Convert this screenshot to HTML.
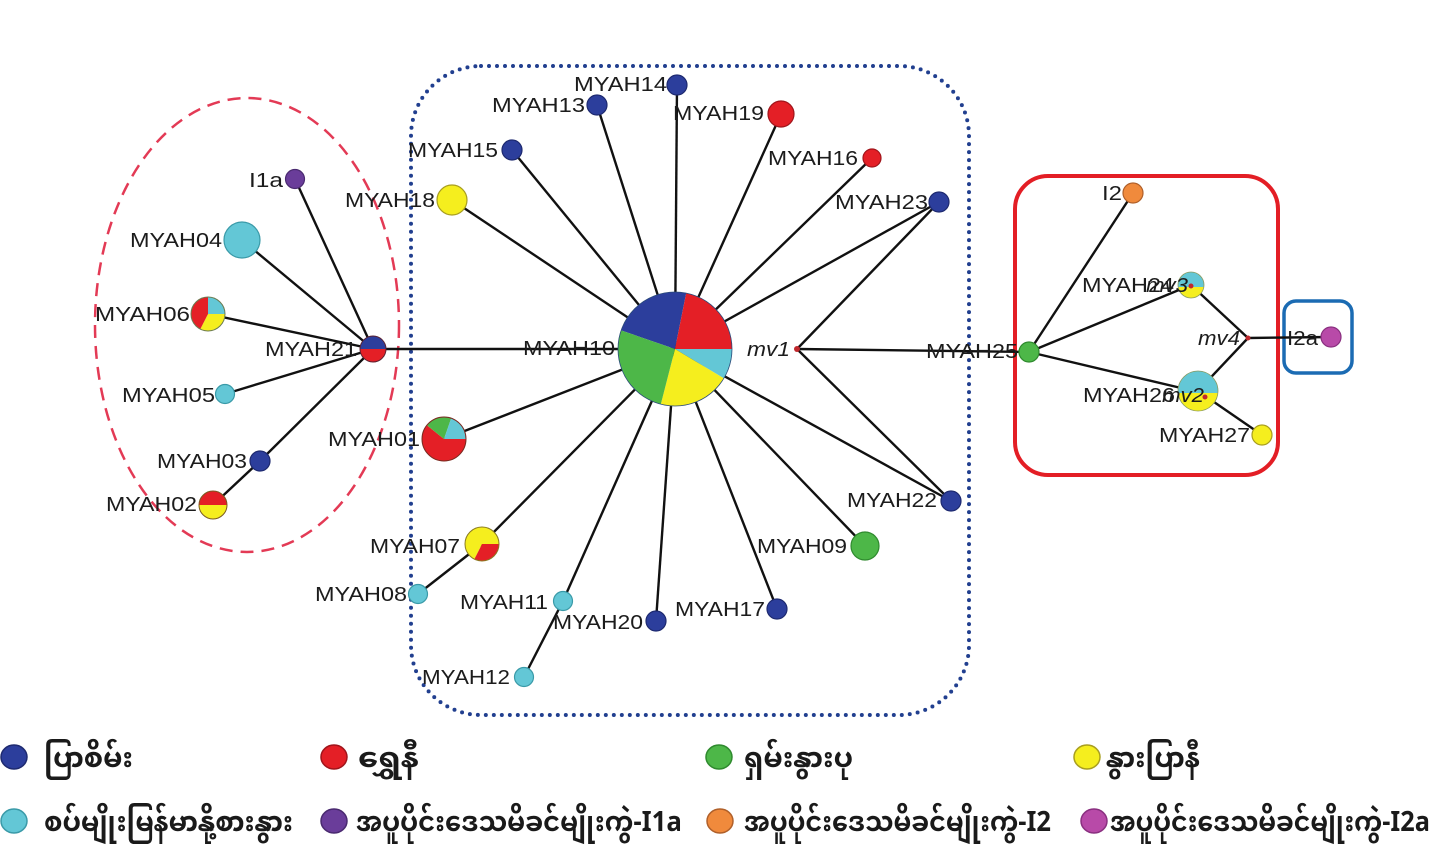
<!DOCTYPE html>
<html>
<head>
<meta charset="utf-8">
<style>
  html, body { margin: 0; padding: 0; background: #ffffff; }
  svg { display: block; }
  .lbl { font-family: "Liberation Sans", Arial, sans-serif; font-size: 20px; fill: #1c1c1c; }
  .it { font-style: italic; }
  .leg { font-family: "Noto Sans Myanmar", "Padauk", "Myanmar Text", "Liberation Sans", sans-serif; font-size: 28px; font-weight: bold; fill: #1a1a1a; }
  .e { stroke: #111; stroke-width: 2.4; fill: none; }
</style>
</head>
<body>
<svg width="1455" height="861" viewBox="0 0 1455 861" xmlns="http://www.w3.org/2000/svg">
  <rect x="0" y="0" width="1455" height="861" fill="#ffffff"/>

  <!-- grouping shapes -->
  <ellipse cx="247" cy="325" rx="152" ry="227" fill="none" stroke="#e33a55" stroke-width="2.5" stroke-dasharray="13 8"/>
  <rect x="411" y="66" width="558" height="649" rx="70" ry="70" fill="none" stroke="#213f8f" stroke-width="4" stroke-dasharray="0 8" stroke-linecap="round"/>
  <rect x="1015" y="176" width="263" height="299" rx="33" ry="33" fill="none" stroke="#e31e25" stroke-width="4"/>
  <rect x="1284" y="301" width="68" height="72" rx="12" ry="12" fill="none" stroke="#1b6bb3" stroke-width="3.5"/>

  <!-- edges -->
  <g class="e">
    <line x1="675" y1="349" x2="677" y2="85"/>
    <line x1="675" y1="349" x2="597" y2="105"/>
    <line x1="675" y1="349" x2="781" y2="114"/>
    <line x1="675" y1="349" x2="512" y2="150"/>
    <line x1="675" y1="349" x2="872" y2="158"/>
    <line x1="675" y1="349" x2="452" y2="200"/>
    <line x1="675" y1="349" x2="939" y2="202"/>
    <line x1="675" y1="349" x2="951" y2="501"/>
    <line x1="675" y1="349" x2="865" y2="546"/>
    <line x1="675" y1="349" x2="777" y2="609"/>
    <line x1="675" y1="349" x2="656" y2="621"/>
    <line x1="675" y1="349" x2="563" y2="601"/>
    <line x1="675" y1="349" x2="482" y2="544"/>
    <line x1="675" y1="349" x2="444" y2="439"/>
    <line x1="675" y1="349" x2="373" y2="349"/>
    <line x1="939" y1="202" x2="797" y2="349"/>
    <line x1="951" y1="501" x2="797" y2="349"/>
    <line x1="797" y1="349" x2="1029" y2="352"/>
    <line x1="563" y1="601" x2="524" y2="677"/>
    <line x1="482" y1="544" x2="418" y2="594"/>
    <line x1="373" y1="349" x2="295" y2="179"/>
    <line x1="373" y1="349" x2="242" y2="240"/>
    <line x1="373" y1="349" x2="208" y2="314"/>
    <line x1="373" y1="349" x2="225" y2="394"/>
    <line x1="373" y1="349" x2="260" y2="461"/>
    <line x1="260" y1="461" x2="213" y2="505"/>
    <line x1="1029" y1="352" x2="1133" y2="193"/>
    <line x1="1029" y1="352" x2="1191" y2="285"/>
    <line x1="1029" y1="352" x2="1198" y2="392"/>
    <line x1="1191" y1="285" x2="1248" y2="338"/>
    <line x1="1198" y1="391" x2="1248" y2="338"/>
    <line x1="1248" y1="338" x2="1331" y2="337"/>
    <line x1="1198" y1="391" x2="1262" y2="435"/>
  </g>

  <!-- central pie MYAH10 -->
  <g>
    <path d="M675,349 L621.1,330.4 A57,57 0 0 1 686.2,293.1 Z" fill="#2c3e9c"/>
    <path d="M675,349 L686.2,293.1 A57,57 0 0 1 732,349 Z" fill="#e41f26"/>
    <path d="M675,349 L732,349 A57,57 0 0 1 723.9,378.4 Z" fill="#63c7d6"/>
    <path d="M675,349 L723.9,378.4 A57,57 0 0 1 660.8,404.2 Z" fill="#f5ee1e"/>
    <path d="M675,349 L660.8,404.2 A57,57 0 0 1 621.1,330.4 Z" fill="#4db748"/>
    <circle cx="675" cy="349" r="57" fill="none" stroke="#2a4a7a" stroke-width="0.8"/>
  </g>

  <!-- MYAH01 pie -->
  <path d="M444,439 L466,439 A22,22 0 1 1 426.9,425.2 Z" fill="#e41f26"/>
  <path d="M444,439 L426.9,425.2 A22,22 0 0 1 451.2,418.2 Z" fill="#4db748"/>
  <path d="M444,439 L451.2,418.2 A22,22 0 0 1 466,439 Z" fill="#63c7d6"/>
  <circle cx="444" cy="439" r="22" fill="none" stroke="#7a2a20" stroke-width="1"/>

  <!-- MYAH07 pie -->
  <path d="M482,544 L499,544 A17,17 0 0 1 474.3,559.1 Z" fill="#e41f26"/>
  <path d="M482,544 L474.3,559.1 A17,17 0 1 1 499,544 Z" fill="#f5ee1e"/>
  <circle cx="482" cy="544" r="17" fill="none" stroke="#8a7a20" stroke-width="1"/>

  <!-- MYAH06 pie -->
  <path d="M208,314 L208,297 A17,17 0 0 1 225,314 Z" fill="#63c7d6"/>
  <path d="M208,314 L225,314 A17,17 0 0 1 200.3,329.1 Z" fill="#f5ee1e"/>
  <path d="M208,314 L200.3,329.1 A17,17 0 0 1 208,297 Z" fill="#e41f26"/>
  <circle cx="208" cy="314" r="17" fill="none" stroke="#6a7a50" stroke-width="1"/>

  <!-- MYAH21 half -->
  <path d="M360,349 A13,13 0 0 1 386,349 Z" fill="#2c3e9c"/>
  <path d="M386,349 A13,13 0 0 1 360,349 Z" fill="#e41f26"/>
  <circle cx="373" cy="349" r="13" fill="none" stroke="#5a2030" stroke-width="1"/>

  <!-- MYAH02 half -->
  <path d="M199,505 A14,14 0 0 1 227,505 Z" fill="#e41f26"/>
  <path d="M227,505 A14,14 0 0 1 199,505 Z" fill="#f5ee1e"/>
  <circle cx="213" cy="505" r="14" fill="none" stroke="#7a5a20" stroke-width="1"/>

  <!-- MYAH24 / mv3 -->
  <circle cx="1191" cy="285" r="13" fill="#f5ee1e"/>
  <path d="M1178.15,287 A13,13 0 1 1 1203.85,287 Z" fill="#63c7d6"/>
  <circle cx="1191" cy="285" r="13" fill="none" stroke="#8a9a60" stroke-width="0.8"/>

  <!-- MYAH26 / mv2 -->
  <circle cx="1198" cy="391" r="20" fill="#f5ee1e"/>
  <path d="M1178.1,393 A20,20 0 1 1 1217.9,393 Z" fill="#63c7d6"/>
  <circle cx="1198" cy="391" r="20" fill="none" stroke="#8a9a60" stroke-width="0.8"/>

  <!-- simple nodes -->
  <g stroke-width="1.2">
    <circle cx="677" cy="85" r="10" fill="#2c3e9c" stroke="#1e2a70"/>
    <circle cx="597" cy="105" r="10" fill="#2c3e9c" stroke="#1e2a70"/>
    <circle cx="781" cy="114" r="13" fill="#e41f26" stroke="#a0151b"/>
    <circle cx="512" cy="150" r="10" fill="#2c3e9c" stroke="#1e2a70"/>
    <circle cx="872" cy="158" r="9" fill="#e41f26" stroke="#a0151b"/>
    <circle cx="452" cy="200" r="15" fill="#f5ee1e" stroke="#a89e20"/>
    <circle cx="939" cy="202" r="10" fill="#2c3e9c" stroke="#1e2a70"/>
    <circle cx="951" cy="501" r="10" fill="#2c3e9c" stroke="#1e2a70"/>
    <circle cx="865" cy="546" r="14" fill="#4db748" stroke="#2f8a2e"/>
    <circle cx="777" cy="609" r="10" fill="#2c3e9c" stroke="#1e2a70"/>
    <circle cx="656" cy="621" r="10" fill="#2c3e9c" stroke="#1e2a70"/>
    <circle cx="563" cy="601" r="9.5" fill="#63c7d6" stroke="#3a9aa8"/>
    <circle cx="524" cy="677" r="9.5" fill="#63c7d6" stroke="#3a9aa8"/>
    <circle cx="418" cy="594" r="9.5" fill="#63c7d6" stroke="#3a9aa8"/>
    <circle cx="295" cy="179" r="9.5" fill="#6a3d9a" stroke="#4a2a70"/>
    <circle cx="242" cy="240" r="18" fill="#63c7d6" stroke="#3a9aa8"/>
    <circle cx="225" cy="394" r="9.5" fill="#63c7d6" stroke="#3a9aa8"/>
    <circle cx="260" cy="461" r="10" fill="#2c3e9c" stroke="#1e2a70"/>
    <circle cx="1029" cy="352" r="10" fill="#4db748" stroke="#2f8a2e"/>
    <circle cx="1133" cy="193" r="10" fill="#f08a3c" stroke="#b0602a"/>
    <circle cx="1331" cy="337" r="10" fill="#b84aa8" stroke="#8a3080"/>
    <circle cx="1262" cy="435" r="10" fill="#f5ee1e" stroke="#a89e20"/>
  </g>

  <!-- median vectors -->
  <g fill="#c0282d">
    <circle cx="797" cy="349" r="3"/>
    <circle cx="1191" cy="286" r="2.5"/>
    <circle cx="1205" cy="397" r="2.5"/>
    <circle cx="1248" cy="338" r="2.5"/>
  </g>

  <!-- labels -->
  <g class="lbl">
    <text x="249" y="187" textLength="34" lengthAdjust="spacingAndGlyphs">I1a</text>
    <text x="130" y="247" textLength="92" lengthAdjust="spacingAndGlyphs">MYAH04</text>
    <text x="95" y="321" textLength="95" lengthAdjust="spacingAndGlyphs">MYAH06</text>
    <text x="265" y="356" textLength="92" lengthAdjust="spacingAndGlyphs">MYAH21</text>
    <text x="122" y="402" textLength="93" lengthAdjust="spacingAndGlyphs">MYAH05</text>
    <text x="157" y="468" textLength="90" lengthAdjust="spacingAndGlyphs">MYAH03</text>
    <text x="106" y="511" textLength="91" lengthAdjust="spacingAndGlyphs">MYAH02</text>
    <text x="345" y="207" textLength="90" lengthAdjust="spacingAndGlyphs">MYAH18</text>
    <text x="408" y="157" textLength="90" lengthAdjust="spacingAndGlyphs">MYAH15</text>
    <text x="492" y="112" textLength="93" lengthAdjust="spacingAndGlyphs">MYAH13</text>
    <text x="574" y="91" textLength="93" lengthAdjust="spacingAndGlyphs">MYAH14</text>
    <text x="673" y="120" textLength="91" lengthAdjust="spacingAndGlyphs">MYAH19</text>
    <text x="768" y="165" textLength="90" lengthAdjust="spacingAndGlyphs">MYAH16</text>
    <text x="835" y="209" textLength="93" lengthAdjust="spacingAndGlyphs">MYAH23</text>
    <text x="523" y="355" textLength="92" lengthAdjust="spacingAndGlyphs">MYAH10</text>
    <text class="it" x="747" y="356" textLength="43" lengthAdjust="spacingAndGlyphs">mv1</text>
    <text x="926" y="358" textLength="92" lengthAdjust="spacingAndGlyphs">MYAH25</text>
    <text x="847" y="507" textLength="90" lengthAdjust="spacingAndGlyphs">MYAH22</text>
    <text x="757" y="553" textLength="90" lengthAdjust="spacingAndGlyphs">MYAH09</text>
    <text x="675" y="616" textLength="90" lengthAdjust="spacingAndGlyphs">MYAH17</text>
    <text x="553" y="629" textLength="90" lengthAdjust="spacingAndGlyphs">MYAH20</text>
    <text x="460" y="609" textLength="88" lengthAdjust="spacingAndGlyphs">MYAH11</text>
    <text x="422" y="684" textLength="88" lengthAdjust="spacingAndGlyphs">MYAH12</text>
    <text x="315" y="601" textLength="92" lengthAdjust="spacingAndGlyphs">MYAH08</text>
    <text x="370" y="553" textLength="90" lengthAdjust="spacingAndGlyphs">MYAH07</text>
    <text x="328" y="446" textLength="92" lengthAdjust="spacingAndGlyphs">MYAH01</text>
    <text x="1102" y="200" textLength="20" lengthAdjust="spacingAndGlyphs">I2</text>
    <text x="1082" y="292" textLength="92" lengthAdjust="spacingAndGlyphs">MYAH24</text>
    <text class="it" x="1146" y="292" textLength="42" lengthAdjust="spacingAndGlyphs">mv3</text>
    <text class="it" x="1198" y="345" textLength="42" lengthAdjust="spacingAndGlyphs">mv4</text>
    <text x="1287" y="345" textLength="31" lengthAdjust="spacingAndGlyphs">I2a</text>
    <text x="1083" y="402" textLength="92" lengthAdjust="spacingAndGlyphs">MYAH26</text>
    <text class="it" x="1162" y="402" textLength="42" lengthAdjust="spacingAndGlyphs">mv2</text>
    <text x="1159" y="442" textLength="91" lengthAdjust="spacingAndGlyphs">MYAH27</text>
  </g>

  <!-- legend -->
  <g stroke-width="1.5">
    <ellipse cx="14" cy="757" rx="13" ry="12" fill="#2c3e9c" stroke="#1e2a70"/>
    <ellipse cx="334" cy="757" rx="13" ry="12" fill="#e41f26" stroke="#a0151b"/>
    <ellipse cx="719" cy="757" rx="13" ry="12" fill="#4db748" stroke="#2f8a2e"/>
    <ellipse cx="1087" cy="757" rx="13" ry="12" fill="#f5ee1e" stroke="#a89e20"/>
    <ellipse cx="14" cy="821" rx="13" ry="12" fill="#63c7d6" stroke="#3a9aa8"/>
    <ellipse cx="334" cy="821" rx="13" ry="12" fill="#6a3d9a" stroke="#4a2a70"/>
    <ellipse cx="720" cy="821" rx="13" ry="12" fill="#f08a3c" stroke="#b0602a"/>
    <ellipse cx="1094" cy="821" rx="13" ry="12" fill="#b84aa8" stroke="#8a3080"/>
  </g>
  <g class="leg">
    <text x="44" y="767" textLength="89" lengthAdjust="spacingAndGlyphs">ပြာစိမ်း</text>
    <text x="358" y="767" textLength="61" lengthAdjust="spacingAndGlyphs">ရွှေနီ</text>
    <text x="744" y="767" textLength="109" lengthAdjust="spacingAndGlyphs">ရှမ်းနွားပု</text>
    <text x="1106" y="767" textLength="94" lengthAdjust="spacingAndGlyphs">နွားပြာနီ</text>
    <text x="44" y="831" textLength="249" lengthAdjust="spacingAndGlyphs">စပ်မျိုးမြန်မာနို့စားနွား</text>
    <text x="356" y="831" textLength="326" lengthAdjust="spacingAndGlyphs">အပူပိုင်းဒေသမိခင်မျိုးကွဲ-I1a</text>
    <text x="744" y="831" textLength="307" lengthAdjust="spacingAndGlyphs">အပူပိုင်းဒေသမိခင်မျိုးကွဲ-I2</text>
    <text x="1110" y="831" textLength="320" lengthAdjust="spacingAndGlyphs">အပူပိုင်းဒေသမိခင်မျိုးကွဲ-I2a</text>
  </g>
</svg>
</body>
</html>
